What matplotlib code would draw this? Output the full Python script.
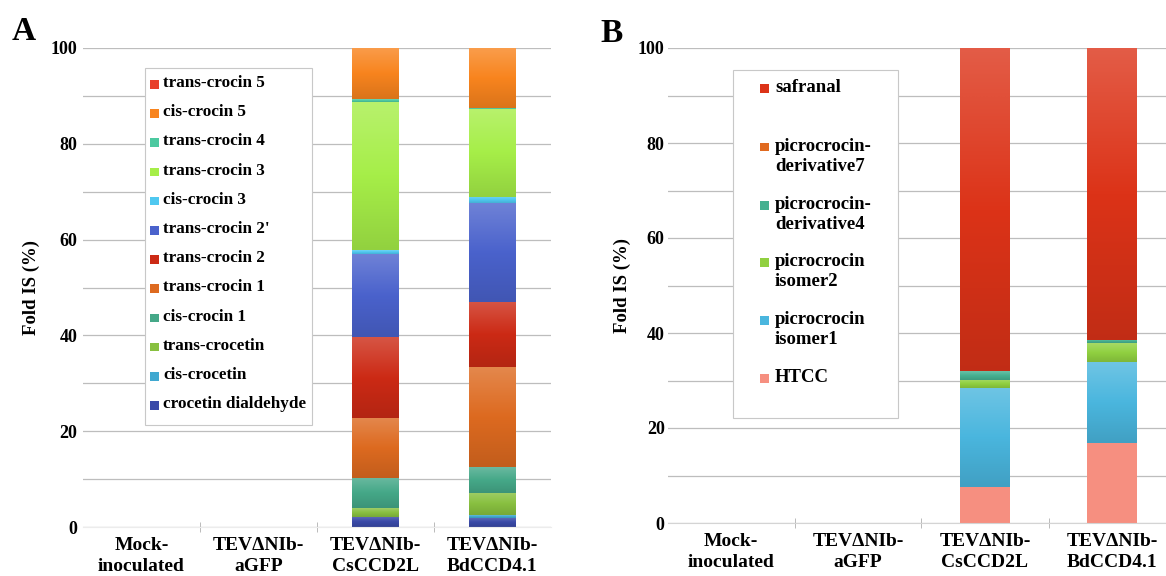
import numpy as np
import matplotlib
matplotlib.use("Agg")
import matplotlib.pyplot as plt
from matplotlib.colors import LinearSegmentedColormap, to_rgb
from matplotlib.patches import Rectangle

plt.rcParams['font.family'] = ['Liberation Serif', 'DejaVu Serif']
plt.rcParams['font.weight'] = 'bold'

samples = ['Mock-\ninoculated', 'TEVΔNIb-\naGFP', 'TEVΔNIb-\nCsCCD2L', 'TEVΔNIb-\nBdCCD4.1']

# panel A, stacked bottom -> top (% of IS)
crocin_names = ['crocetin dialdehyde', 'cis-crocetin', 'trans-crocetin', 'cis-crocin 1',
                'trans-crocin 1', 'trans-crocin 2', "trans-crocin 2'", 'cis-crocin 3',
                'trans-crocin 3', 'trans-crocin 4', 'cis-crocin 5', 'trans-crocin 5']
crocetin_dialdehyde = [0, 0, 2.1, 1.9]
cis_crocetin = [0, 0, 0.0, 0.6]
trans_crocetin = [0, 0, 1.8, 4.6]
cis_crocin1 = [0, 0, 6.3, 5.4]
trans_crocin1 = [0, 0, 12.6, 20.9]
trans_crocin2 = [0, 0, 16.9, 13.6]
trans_crocin2p = [0, 0, 17.3, 20.6]
cis_crocin3 = [0, 0, 0.8, 1.3]
trans_crocin3 = [0, 0, 30.9, 18.4]
trans_crocin4 = [0, 0, 0.6, 0.2]
cis_crocin5 = [0, 0, 10.7, 12.5]
trans_crocin5 = [0, 0, 0.0, 0.0]
crocin_vals = [crocetin_dialdehyde, cis_crocetin, trans_crocetin, cis_crocin1, trans_crocin1,
               trans_crocin2, trans_crocin2p, cis_crocin3, trans_crocin3, trans_crocin4,
               cis_crocin5, trans_crocin5]
crocin_colors = ['#3a4aa8', '#40a8d0', '#88c040', '#45a888', '#dd6a20', '#cc2a15',
                 '#4a62cc', '#4fc8f0', '#a6ee48', '#4cc9a0', '#f8841e', '#e8402a']

# panel B, stacked bottom -> top
pic_names = ['HTCC', 'picrocrocin\nisomer1', 'picrocrocin\nisomer2',
             'picrocrocin-\nderivative4', 'picrocrocin-\nderivative7', 'safranal']
htcc = [0, 0, 7.5, 16.9]
isomer1 = [0, 0, 21.0, 16.9]
isomer2 = [0, 0, 1.7, 4.0]
derivative4 = [0, 0, 1.7, 0.8]
derivative7 = [0, 0, 0.2, 0.0]
safranal = [0, 0, 67.9, 61.4]
pic_vals = [htcc, isomer1, isomer2, derivative4, derivative7, safranal]
pic_colors = ['#f68f80', '#4ab6de', '#90d040', '#45b090', '#e06a20', '#dc3318']

W, H = 1166, 576
fig = plt.figure(figsize=(W / 100, H / 100), dpi=100)


def px(x, y):
    return x / W, 1 - y / H


def mix(c, other, t):
    c = np.array(to_rgb(c))
    return tuple(c * (1 - t) + np.array(other) * t)


def stacked(ax, vals, colors, width, flat=()):
    x = np.arange(len(samples))
    bottom = np.zeros(len(samples))
    for v, c in zip(vals, colors):
        bars = ax.bar(x, v, width, bottom=bottom, color=c, edgecolor='none', zorder=2)
        bottom += np.array(v)
        if c in flat:
            continue
        cmap = LinearSegmentedColormap.from_list('g', [mix(c, (0, 0, 0), 0.12), c, mix(c, (1, 1, 1), 0.2)])
        for r in bars:
            if r.get_height() <= 0:
                continue
            x0, y0 = r.get_x(), r.get_y()
            ax.imshow(np.linspace(0, 1, 64).reshape(-1, 1), origin='lower', cmap=cmap,
                      extent=(x0, x0 + r.get_width(), y0, y0 + r.get_height()),
                      aspect='auto', interpolation='bilinear', zorder=2.5)


def style(ax, bottom_line):
    ax.set_xlim(-0.5, 3.5)
    ax.set_ylim(0, 100)
    ax.set_yticks(np.arange(0, 101, 20))
    ax.set_yticks(np.arange(10, 100, 20), minor=True)
    ax.tick_params(axis='y', which='both', length=0, labelsize=13, pad=4)
    ax.yaxis.grid(True, which='both', color='#bdbdbd', lw=0.9)
    ax.set_axisbelow(True)
    ax.set_xticks(range(4))
    ax.set_xticklabels(samples, fontsize=14, linespacing=1.35)
    ax.tick_params(axis='x', which='major', length=0, pad=7)
    ax.set_xticks([0.5, 1.5, 2.5], minor=True)
    ax.tick_params(axis='x', which='minor', length=7, direction='inout', color='#b0b0b0')
    for s in ['left', 'right', 'top']:
        ax.spines[s].set_visible(False)
    ax.spines['bottom'].set_color(bottom_line)
    ax.set_ylabel('Fold IS (%)', fontsize=13.5, fontweight='bold')


# panel A
l, b = px(83, 527)
axA = fig.add_axes([l, b, 467.5 / W, 479 / H])
stacked(axA, crocin_vals, crocin_colors, 0.4)
style(axA, '#ececec')
axA.yaxis.set_label_coords(-0.092, 0.5)

# panel B
l, b = px(667.5, 523)
axB = fig.add_axes([l, b, 508 / W, 475 / H])
stacked(axB, pic_vals, pic_colors, 0.39, flat=('#f68f80',))
style(axB, '#d4d4d4')
axB.tick_params(axis='y', pad=2)
axB.yaxis.set_label_coords(-0.072, 0.5)

fig.text(*px(12, 40), 'A', fontsize=24, fontweight='bold')
fig.text(*px(600, 42), 'B', fontsize=24, fontweight='bold')


def legend_box(x0, y0, x1, y1, names, colors, ys, hx, tx, fs):
    fig.patches.append(Rectangle(px(x0, y1), (x1 - x0) / W, (y1 - y0) / H,
                                 transform=fig.transFigure, facecolor='white',
                                 edgecolor='#c8c8c8', lw=0.8, zorder=5))
    for name, c, y in zip(names, colors, ys):
        fig.patches.append(Rectangle(px(hx, y + 4.5), 8.5 / W, 8.5 / H,
                                     transform=fig.transFigure, facecolor=c,
                                     edgecolor='none', zorder=6))
        fig.text(*px(tx, y - 9), name, fontsize=fs, fontweight='bold', va='top',
                 linespacing=1.25, zorder=7)


# legends list top -> bottom
legend_box(145, 68, 312, 425, crocin_names[::-1], crocin_colors[::-1],
           [84 + 29.2 * i for i in range(12)], 150, 163, 12.3)
legend_box(733, 70, 898, 418, pic_names[::-1], pic_colors[::-1],
           [88, 147, 205, 262, 320, 378], 760, 775, 13.5)

fig.savefig('out.png', dpi=100)
